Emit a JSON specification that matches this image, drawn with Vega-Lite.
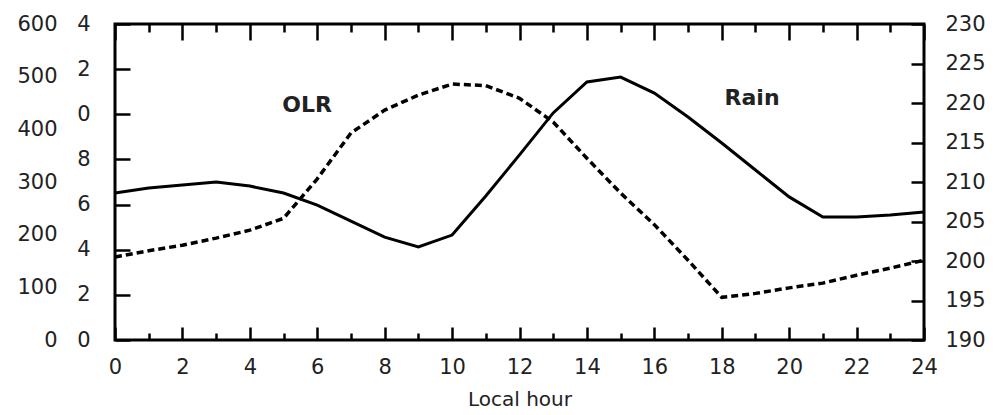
{
  "$schema": "https://vega.github.io/schema/vega-lite/v6.json",
  "width": 809,
  "height": 316,
  "autosize": "none",
  "padding": {"left": 115, "top": 24, "right": 72, "bottom": 75},
  "background": "white",
  "config": {
    "view": {"stroke": "black", "strokeWidth": 3},
    "axis": {
      "labelFont": "DejaVu Sans",
      "labelFontSize": 21,
      "labelColor": "#222",
      "labelFlush": false,
      "tickColor": "black",
      "tickWidth": 2.5,
      "domain": false,
      "grid": false,
      "titleFont": "DejaVu Sans",
      "titleFontSize": 20,
      "titleFontWeight": "normal",
      "titleColor": "#222"
    }
  },
  "datasets": {
    "diurnal": [
      {"hour": 0, "rain": 6.51, "olr": 200.5},
      {"hour": 1, "rain": 6.73, "olr": 201.3},
      {"hour": 2, "rain": 6.87, "olr": 202.0},
      {"hour": 3, "rain": 7.0, "olr": 202.9},
      {"hour": 4, "rain": 6.82, "olr": 203.9},
      {"hour": 5, "rain": 6.51, "olr": 205.4},
      {"hour": 6, "rain": 5.98, "olr": 210.4},
      {"hour": 7, "rain": 5.27, "olr": 216.2},
      {"hour": 8, "rain": 4.56, "olr": 219.1},
      {"hour": 9, "rain": 4.12, "olr": 221.0},
      {"hour": 10, "rain": 4.65, "olr": 222.4},
      {"hour": 11, "rain": 6.38, "olr": 222.2},
      {"hour": 12, "rain": 8.2, "olr": 220.6},
      {"hour": 13, "rain": 10.06, "olr": 217.6},
      {"hour": 14, "rain": 11.43, "olr": 213.0},
      {"hour": 15, "rain": 11.65, "olr": 208.6},
      {"hour": 16, "rain": 10.94, "olr": 204.6},
      {"hour": 17, "rain": 9.88, "olr": 200.1},
      {"hour": 18, "rain": 8.73, "olr": 195.4},
      {"hour": 19, "rain": 7.53, "olr": 195.9},
      {"hour": 20, "rain": 6.34, "olr": 196.6},
      {"hour": 21, "rain": 5.45, "olr": 197.2},
      {"hour": 22, "rain": 5.45, "olr": 198.2},
      {"hour": 23, "rain": 5.54, "olr": 199.1},
      {"hour": 24, "rain": 5.67, "olr": 200.1}
    ],
    "tags": [
      {"label": "OLR", "hour": 5.7, "level": 10.4},
      {"label": "Rain", "hour": 18.9, "level": 10.7}
    ]
  },
  "layer": [
    {
      "data": {"name": "diurnal"},
      "mark": {"type": "line", "color": "black", "strokeWidth": 3},
      "encoding": {
        "x": {
          "field": "hour", "type": "quantitative",
          "scale": {"domain": [0, 24], "nice": false},
          "axis": {
            "orient": "bottom",
            "values": [0, 2, 4, 6, 8, 10, 12, 14, 16, 18, 20, 22, 24],
            "tickSize": -13, "labelPadding": 29,
            "title": "Local hour", "titlePadding": 12
          }
        },
        "y": {
          "field": "rain", "type": "quantitative",
          "scale": {"domain": [0, 14], "nice": false, "zero": false},
          "axis": {
            "orient": "left",
            "values": [0, 2, 4, 6, 8, 10, 12, 14],
            "tickSize": -15, "labelPadding": 40,
            "labelExpr": "datum.value % 10",
            "title": null
          }
        }
      }
    },
    {
      "data": {"name": "diurnal"},
      "mark": {"type": "line", "color": "black", "strokeWidth": 3.5, "strokeDash": [7, 4]},
      "encoding": {
        "x": {
          "field": "hour", "type": "quantitative",
          "scale": {"domain": [0, 24], "nice": false},
          "axis": {
            "orient": "top",
            "values": [0, 2, 4, 6, 8, 10, 12, 14, 16, 18, 20, 22, 24],
            "tickSize": -16, "labels": false, "title": null
          }
        },
        "y": {
          "field": "olr", "type": "quantitative",
          "scale": {"domain": [190, 230], "nice": false, "zero": false},
          "axis": {
            "orient": "right",
            "values": [190, 195, 200, 205, 210, 215, 220, 225, 230],
            "tickSize": -13, "labelPadding": 34,
            "title": null
          }
        }
      }
    },
    {
      "data": {"name": "diurnal"},
      "mark": {"type": "point", "opacity": 0},
      "encoding": {
        "x": {
          "field": "hour", "type": "quantitative",
          "scale": {"domain": [0, 24], "nice": false},
          "axis": {
            "orient": "bottom",
            "values": [1, 3, 5, 7, 9, 11, 13, 15, 17, 19, 21, 23],
            "tickSize": -7, "labels": false, "title": null
          }
        },
        "y": {
          "datum": 0, "type": "quantitative",
          "scale": {"domain": [0, 600], "nice": false},
          "axis": {
            "orient": "left", "offset": 58,
            "values": [0, 100, 200, 300, 400, 500, 600],
            "ticks": false, "labelPadding": 0, "title": null
          }
        }
      }
    },
    {
      "data": {"name": "diurnal"},
      "mark": {"type": "point", "opacity": 0},
      "encoding": {
        "x": {
          "field": "hour", "type": "quantitative",
          "scale": {"domain": [0, 24], "nice": false},
          "axis": {
            "orient": "top",
            "values": [1, 3, 5, 7, 9, 11, 13, 15, 17, 19, 21, 23],
            "tickSize": -8, "labels": false, "title": null
          }
        },
        "y": {
          "field": "rain", "type": "quantitative",
          "scale": {"domain": [0, 14], "nice": false},
          "axis": null
        }
      }
    },
    {
      "data": {"name": "tags"},
      "mark": {"type": "text", "font": "DejaVu Sans", "fontWeight": "bold", "fontSize": 22, "color": "#222"},
      "encoding": {
        "x": {
          "field": "hour", "type": "quantitative",
          "scale": {"domain": [0, 24], "nice": false},
          "axis": null
        },
        "y": {
          "field": "level", "type": "quantitative",
          "scale": {"domain": [0, 14], "nice": false},
          "axis": null
        },
        "text": {"field": "label"}
      }
    }
  ],
  "resolve": {
    "scale": {"x": "independent", "y": "independent"},
    "axis": {"x": "independent", "y": "independent"}
  }
}
